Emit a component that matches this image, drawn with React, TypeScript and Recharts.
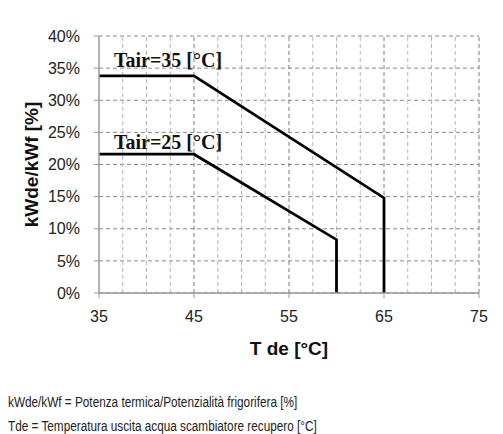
import { LineChart, Line, XAxis, YAxis, CartesianGrid, ReferenceLine, Label } from 'recharts';

// temperature (°C) -> kWde/kWf (%)
const tair35 = [
  { t: 35, v: 33.8 },
  { t: 45, v: 33.8 },
  { t: 65, v: 14.8 },
  { t: 65, v: 0 },
];
const tair25 = [
  { t: 35, v: 21.6 },
  { t: 45, v: 21.6 },
  { t: 60, v: 8.3 },
  { t: 60, v: 0 },
];

const xTicks = [35, 45, 55, 65, 75];
const yTicks = [0, 5, 10, 15, 20, 25, 30, 35, 40];
const majorX = [45, 55, 65, 75];
const minorX = [37.5, 40, 42.5, 47.5, 50, 52.5, 57.5, 60, 62.5, 67.5, 70, 72.5];

const tickFont = { fontFamily: 'Liberation Sans, Arial, sans-serif', fontSize: 16, fill: '#222' };
const noteStyle: React.CSSProperties = {
  position: 'absolute',
  left: 8,
  fontFamily: '"Liberation Sans", Arial, sans-serif',
  fontSize: 14,
  color: '#222',
  whiteSpace: 'nowrap',
  lineHeight: '16px',
  transform: 'scaleX(0.84)',
  transformOrigin: 'left center',
};
const tagStyle: React.CSSProperties = {
  position: 'absolute',
  left: 114,
  fontFamily: '"Liberation Serif", "DejaVu Serif", serif',
  fontWeight: 'bold',
  fontSize: 20,
  color: '#111',
  whiteSpace: 'nowrap',
  lineHeight: '22px',
};

function YTitle({ viewBox }: any) {
  const cy = viewBox ? viewBox.y + viewBox.height / 2 : 164;
  return (
    <text
      x={31}
      y={cy}
      transform={`rotate(-90 31 ${cy})`}
      textAnchor="middle"
      dominantBaseline="central"
      style={{ fontFamily: 'Liberation Sans, Arial, sans-serif', fontWeight: 'bold', fontSize: 19, fill: '#111' }}
    >
      kWde/kWf [%]
    </text>
  );
}

export default function App() {
  return (
    <div style={{ position: 'absolute', left: 0, top: 0, width: 503, height: 434, background: '#fff' }}>
      <LineChart width={503} height={360} margin={{ top: 36, right: 24, left: 0, bottom: 0 }}>
        <CartesianGrid vertical={false} stroke="#8a8a8a" strokeDasharray="4 3" />
        {minorX.map((x) => (
          <ReferenceLine key={'m' + x} x={x} stroke="#b5b5b5" strokeDasharray="4 3" />
        ))}
        {majorX.map((x) => (
          <ReferenceLine key={'M' + x} x={x} stroke="#7a7a7a" strokeDasharray="4 3" />
        ))}
        <XAxis
          type="number"
          dataKey="t"
          domain={[35, 75]}
          ticks={xTicks}
          allowDuplicatedCategory={false}
          height={67}
          tickSize={5}
          tickMargin={13}
          tick={tickFont}
          axisLine={{ stroke: '#999', strokeWidth: 1.5 }}
          tickLine={{ stroke: '#999' }}
        >
          <Label
            value="T de [°C]"
            position="insideBottom"
            offset={5}
            style={{ fontFamily: 'Liberation Sans, Arial, sans-serif', fontWeight: 'bold', fontSize: 19, fill: '#111' }}
          />
        </XAxis>
        <YAxis
          type="number"
          domain={[0, 40]}
          ticks={yTicks}
          width={99}
          tickSize={5}
          tickMargin={14}
          tick={tickFont}
          tickFormatter={(v) => `${v}%`}
          axisLine={{ stroke: '#999', strokeWidth: 1.5 }}
          tickLine={{ stroke: '#999' }}
        >
          <Label content={<YTitle />} />
        </YAxis>
        <Line data={tair35} dataKey="v" type="linear" stroke="#000" strokeWidth={2.8} dot={false} isAnimationActive={false} />
        <Line data={tair25} dataKey="v" type="linear" stroke="#000" strokeWidth={2.8} dot={false} isAnimationActive={false} />
      </LineChart>
      <div style={{ ...tagStyle, top: 49 }}>Tair=35 [°C]</div>
      <div style={{ ...tagStyle, top: 131 }}>Tair=25 [°C]</div>
      <div style={{ ...noteStyle, top: 394 }}>kWde/kWf = Potenza termica/Potenzialità frigorifera [%]</div>
      <div style={{ ...noteStyle, top: 418 }}>Tde = Temperatura uscita acqua scambiatore recupero [°C]</div>
    </div>
  );
}
